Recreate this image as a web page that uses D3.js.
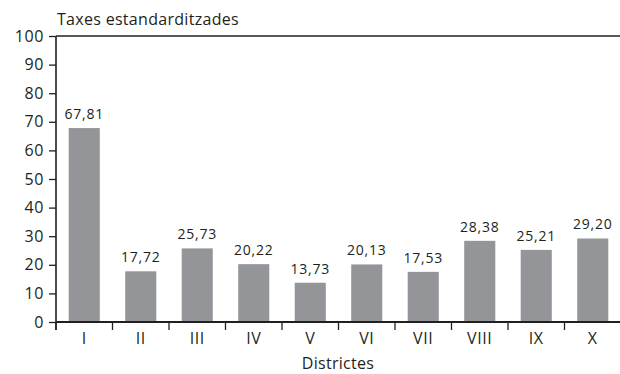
<!DOCTYPE html>
<html>
<head>
<meta charset="utf-8">
<script src="https://cdn.jsdelivr.net/npm/d3@7"></script>
<style>
  html, body { margin: 0; padding: 0; background: #fff; }
  svg { display: block; }
  text { font-family: "Open Sans", "Noto Sans", sans-serif; fill: #231f20; }
</style>
</head>
<body>
<svg id="chart" width="620" height="374"></svg>
<script>
// Standardised rates per district
const districts = ["I", "II", "III", "IV", "V", "VI", "VII", "VIII", "IX", "X"];
const rates = [67.81, 17.72, 25.73, 20.22, 13.73, 20.13, 17.53, 28.38, 25.21, 29.20];
const yTicks = [0, 10, 20, 30, 40, 50, 60, 70, 80, 90, 100];
const yTitle = "Taxes estandarditzades";
const xTitle = "Districtes";

const svg = d3.select("#chart");
const plotLeft = 56, plotRight = 621, plotTop = 36, plotBottom = 322;
const ink = "#231f20";

const x = d3.scaleBand().domain(districts).range([plotLeft, plotRight]).paddingInner(0.45).paddingOuter(0.225);
const y = d3.scaleLinear().domain([0, 100]).range([plotBottom, plotTop]);

const fmt = v => v.toFixed(2).replace(".", ",");

// bars
svg.append("g").selectAll("rect").data(rates).join("rect")
  .attr("x", (d, i) => x(districts[i]))
  .attr("width", x.bandwidth())
  .attr("y", d => y(d))
  .attr("height", d => y(0) - y(d))
  .attr("fill", "#939598");

// value labels
svg.append("g").selectAll("text").data(rates).join("text")
  .attr("x", (d, i) => x(districts[i]) + x.bandwidth() / 2)
  .attr("y", d => y(d) - 9)
  .attr("text-anchor", "middle")
  .style("font-size", "14px")
  .style("letter-spacing", "0.8px")
  .text(fmt);

// frame line at the top of the plot
svg.append("line")
  .attr("x1", plotLeft).attr("x2", 620)
  .attr("y1", y(100)).attr("y2", y(100))
  .attr("stroke", ink).attr("stroke-width", 1.6);

// y axis
const yAxis = svg.append("g")
  .attr("transform", `translate(${plotLeft},0)`)
  .call(d3.axisLeft(y).tickValues(yTicks).tickSize(7).tickPadding(5).tickSizeOuter(0));
yAxis.select(".domain").remove();
yAxis.selectAll("line").attr("stroke", ink).attr("stroke-width", 1.3);
yAxis.selectAll("text").style("font-size", "16px").style("letter-spacing", "0.6px").attr("fill", ink);
svg.append("line")
  .attr("x1", plotLeft).attr("x2", plotLeft)
  .attr("y1", y(100)).attr("y2", plotBottom + 8)
  .attr("stroke", ink).attr("stroke-width", 1.6);

// x axis: ticks fall on the band boundaries
const xAxis = svg.append("g").attr("transform", `translate(0,${plotBottom})`);
xAxis.append("line")
  .attr("x1", plotLeft).attr("x2", 620)
  .attr("stroke", ink).attr("stroke-width", 1.8);
const step = x.step();
xAxis.selectAll("line.tick").data(districts).join("line")
  .attr("class", "tick")
  .attr("x1", d => x(d) - x.paddingOuter() * step)
  .attr("x2", d => x(d) - x.paddingOuter() * step)
  .attr("y1", 0).attr("y2", 8)
  .attr("stroke", ink).attr("stroke-width", 1.3);
xAxis.selectAll("text").data(districts).join("text")
  .attr("x", d => x(d) + x.bandwidth() / 2)
  .attr("y", 22)
  .attr("text-anchor", "middle")
  .style("font-size", "16px")
  .style("letter-spacing", "0.6px")
  .text(d => d);

// axis titles
svg.append("text")
  .attr("x", plotLeft + 1).attr("y", 25)
  .style("font-size", "16px")
  .style("letter-spacing", "0.3px")
  .text(yTitle);
svg.append("text")
  .attr("x", (plotLeft + 620) / 2).attr("y", 369)
  .attr("text-anchor", "middle")
  .style("font-size", "16px")
  .style("letter-spacing", "0.3px")
  .text(xTitle);
</script>
</body>
</html>
